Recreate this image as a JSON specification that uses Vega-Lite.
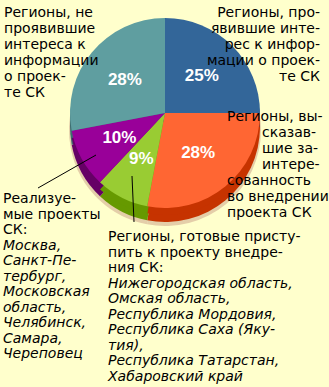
{
  "$schema": "https://vega.github.io/schema/vega-lite/v6.json",
  "width": 329,
  "height": 387,
  "padding": 0,
  "autosize": "none",
  "background": "#FFFFCC",
  "config": {"view": {"stroke": null}},
  "datasets": {
    "slices": [
      {"cat": "Проявившие интерес", "share": 0.25, "order": 1},
      {"cat": "Высказавшие заинтересованность", "share": 0.28, "order": 2},
      {"cat": "Готовые приступить", "share": 0.09, "order": 3},
      {"cat": "Реализуемые проекты", "share": 0.10, "order": 4},
      {"cat": "Не проявившие интереса", "share": 0.28, "order": 5}
    ],
    "notes": [
      {"block": "top", "x": 4, "y": 17, "note": "Регионы, не\nпроявившие\nинтереса к\nинформации\nо проек-\nте СК"},
      {"block": "topRight", "x": 320, "y": 17, "note": "Регионы, про-\nявившие инте-\nрес к инфор-\nмации о проек-\nте СК"},
      {"block": "top", "x": 227, "y": 121, "note": "Регионы, вы-"},
      {"block": "top", "x": 262, "y": 137, "note": "сказав-\nшие за-\nинтере-"},
      {"block": "top", "x": 227, "y": 185, "note": "сованность\nво внедрении\nпроекта СК"},
      {"block": "bottom", "x": 3, "y": 203, "note": "Реализуе-\nмые проекты\nСК:"},
      {"block": "bottom", "x": 108, "y": 241, "note": "Регионы, готовые присту-\nпить к проекту внедре-\nния СК:"},
      {"block": "italic", "x": 3, "y": 249.5, "note": "Москва,\nСанкт-Пе-\nтербург,\nМосковская\nобласть,\nЧелябинск,\nСамара,\nЧереповец"},
      {"block": "italic", "x": 108, "y": 287.5, "note": "Нижегородская область,\nОмская область,\nРеспублика Мордовия,\nРеспублика Саха (Яку-\nтия),\nРеспублика Татарстан,\nХабаровский край"}
    ],
    "leaders": [
      {"x": 96, "y": 155, "x2": 38, "y2": 188},
      {"x": 132, "y": 176, "x2": 134, "y2": 222}
    ]
  },
  "layer": [
    {
      "data": {"name": "slices"},
      "mark": {"type": "arc", "outerRadius": 96, "yOffset": 17, "color": "#D9B99A", "opacity": 0.7},
      "encoding": {
        "x": {"datum": 165, "type": "quantitative", "scale": {"domain": [0, 329], "nice": false, "zero": false}, "axis": null},
        "y": {"datum": 113, "type": "quantitative", "scale": {"domain": [0, 387], "nice": false, "zero": false, "reverse": true}, "axis": null},
        "theta": {"field": "share", "type": "quantitative", "stack": true},
        "order": {"field": "order"}
      }
    },
    {
      "data": {"name": "slices"},
      "mark": {"type": "arc", "outerRadius": 95, "yOffset": 14},
      "encoding": {
        "x": {"datum": 165, "type": "quantitative"},
        "y": {"datum": 113, "type": "quantitative"},
        "theta": {"field": "share", "type": "quantitative", "stack": true},
        "order": {"field": "order"},
        "color": {"field": "cat", "type": "nominal", "legend": null,
          "scale": {"domain": ["Проявившие интерес", "Высказавшие заинтересованность", "Готовые приступить", "Реализуемые проекты", "Не проявившие интереса"],
                    "range": ["#214F7C", "#C63300", "#669900", "#660066", "#3E6E70"]}}
      }
    },
    {
      "data": {"name": "slices"},
      "mark": {"type": "arc", "outerRadius": 95, "yOffset": 7},
      "encoding": {
        "x": {"datum": 165, "type": "quantitative"},
        "y": {"datum": 113, "type": "quantitative"},
        "theta": {"field": "share", "type": "quantitative", "stack": true},
        "order": {"field": "order"},
        "color": {"field": "cat", "type": "nominal", "legend": null,
          "scale": {"domain": ["Проявившие интерес", "Высказавшие заинтересованность", "Готовые приступить", "Реализуемые проекты", "Не проявившие интереса"],
                    "range": ["#214F7C", "#C63300", "#669900", "#660066", "#3E6E70"]}}
      }
    },
    {
      "data": {"name": "slices"},
      "mark": {"type": "arc", "outerRadius": 95},
      "encoding": {
        "x": {"datum": 165, "type": "quantitative"},
        "y": {"datum": 113, "type": "quantitative"},
        "theta": {"field": "share", "type": "quantitative", "stack": true},
        "order": {"field": "order"},
        "fill": {"field": "cat", "type": "nominal", "legend": null,
          "scale": {"domain": ["Проявившие интерес", "Высказавшие заинтересованность", "Готовые приступить", "Реализуемые проекты", "Не проявившие интереса"],
                    "range": ["#336699", "#FF6633", "#99CC33", "#990099", "#5F9EA0"]}}
      }
    },
    {
      "data": {"name": "slices"},
      "mark": {"type": "text", "radius": 52, "font": "Liberation Sans", "fontSize": 17, "fontWeight": "bold", "color": "white", "baseline": "middle", "align": "center"},
      "encoding": {
        "x": {"datum": 165, "type": "quantitative"},
        "y": {"datum": 113, "type": "quantitative"},
        "theta": {"field": "share", "type": "quantitative", "stack": true},
        "order": {"field": "order"},
        "text": {"field": "share", "type": "quantitative", "format": ".0%"}
      }
    },
    {
      "data": {"name": "leaders"},
      "mark": {"type": "rule", "color": "black", "strokeWidth": 1},
      "encoding": {
        "x": {"field": "x", "type": "quantitative"},
        "y": {"field": "y", "type": "quantitative"},
        "x2": {"field": "x2"},
        "y2": {"field": "y2"}
      }
    },
    {
      "data": {"name": "notes"},
      "transform": [{"filter": "datum.block === 'top'"}],
      "mark": {"type": "text", "font": "DejaVu Sans", "fontSize": 14, "color": "black", "align": "left", "baseline": "alphabetic", "lineBreak": "\n", "lineHeight": 16},
      "encoding": {
        "x": {"field": "x", "type": "quantitative"},
        "y": {"field": "y", "type": "quantitative"},
        "text": {"field": "note"}
      }
    },
    {
      "data": {"name": "notes"},
      "transform": [{"filter": "datum.block === 'topRight'"}],
      "mark": {"type": "text", "font": "DejaVu Sans", "fontSize": 14, "color": "black", "align": "right", "baseline": "alphabetic", "lineBreak": "\n", "lineHeight": 16},
      "encoding": {
        "x": {"field": "x", "type": "quantitative"},
        "y": {"field": "y", "type": "quantitative"},
        "text": {"field": "note"}
      }
    },
    {
      "data": {"name": "notes"},
      "transform": [{"filter": "datum.block === 'bottom'"}],
      "mark": {"type": "text", "font": "DejaVu Sans", "fontSize": 14, "color": "black", "align": "left", "baseline": "alphabetic", "lineBreak": "\n", "lineHeight": 15.5},
      "encoding": {
        "x": {"field": "x", "type": "quantitative"},
        "y": {"field": "y", "type": "quantitative"},
        "text": {"field": "note"}
      }
    },
    {
      "data": {"name": "notes"},
      "transform": [{"filter": "datum.block === 'italic'"}],
      "mark": {"type": "text", "font": "DejaVu Sans", "fontSize": 14, "fontStyle": "italic", "color": "black", "align": "left", "baseline": "alphabetic", "lineBreak": "\n", "lineHeight": 15.5},
      "encoding": {
        "x": {"field": "x", "type": "quantitative"},
        "y": {"field": "y", "type": "quantitative"},
        "text": {"field": "note"}
      }
    }
  ],
  "resolve": {"scale": {"color": "independent", "fill": "independent"}}
}
